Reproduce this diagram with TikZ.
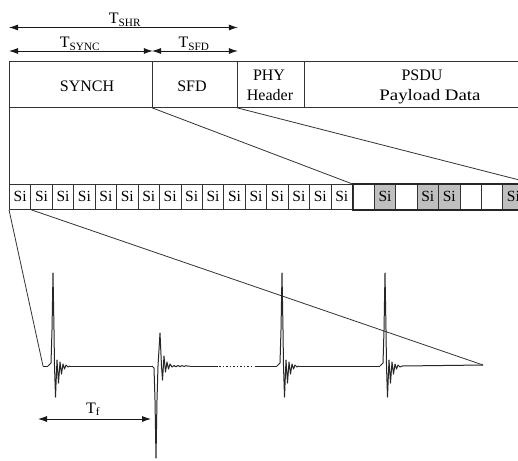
\documentclass[tikz,border=0pt]{standalone}
\usepackage{fontspec}
\setmainfont{Liberation Serif}
\usetikzlibrary{arrows.meta}
\begin{document}
\begin{tikzpicture}[x=1pt,y=-1pt,
  frm/.style={draw=black!80, line width=0.8pt},
  lbl/.style={font=\fontsize{16}{19}\selectfont, inner sep=0pt, anchor=base, text=black},
  dimarrow/.style={{Latex[length=9pt,width=6pt]}-{Latex[length=9pt,width=6pt]}, line width=0.8pt, draw=black!90},
  fcell/.style={frm, anchor=north west, minimum height=46pt, inner sep=0pt},
  sicell/.style={frm, anchor=north west, minimum width=21.44pt, minimum height=25pt, inner sep=0pt, font=\fontsize{15.5}{18}\selectfont, text=black},
  gcell/.style={sicell, fill=black!25},
  wave/.style={line width=1pt, draw=black!85, line join=round},
  pulseup/.pic={\draw[wave] (-5,0) -- (-2,-3) -- (-1,-36) -- (0,-93) -- (1,-36) -- (1.5,0) -- (2.5,31) -- (4,-6) -- (5.5,17) -- (7,-4) -- (8.5,8) -- (10,-2) -- (11.5,3) -- (13,-1) -- (15,1) -- (17,0);},
  pulsedn/.pic={\draw[wave] (-4,0) -- (-2,2) -- (-1,34) -- (0,92) -- (1,34) -- (2,0) -- (4,-33) -- (5.5,0) -- (6.5,14) -- (8,-10) -- (9.5,6) -- (11,-4) -- (12.5,3) -- (14,-2) -- (16,1) -- (18,-0.5) -- (20,0.8) -- (22,-0.5) -- (24,0.6) -- (26,-0.4) -- (28,0.4) -- (30,-0.3) -- (32,0.2) -- (34,0);}
]
\clip (0,0) rectangle (518,460);
\fill[white] (0,0) rectangle (518,460);

% frame
\node[fcell, minimum width=143pt] (synch) at (9,61) {};
\node[fcell, minimum width=85pt] (sfd) at (152,61) {};
\node[fcell, minimum width=67pt] (phy) at (237,61) {};
\node[fcell, minimum width=241pt] (psdu) at (304,61) {};
\node[lbl] (tsynch) at (87,91) {SYNCH};
\node[lbl] (tsfd) at (192,91) {SFD};
\node[lbl] (tphy) at (269,80) {PHY};
\node[lbl] (thead) at (270,100) {Header};
\node[lbl] (tpsdu) at (422,80) {PSDU};
\node[lbl] (tpay) at (430,100) {\scalebox{1.18}[1]{Payload Data}};

% dimension arrows
\draw[dimarrow] ([yshift=33.5pt]synch.north west) coordinate (shrA) -- ([yshift=33.5pt]sfd.north east) coordinate (shrB);
\draw[dimarrow] ([yshift=10pt]synch.north west) coordinate (syA) -- ([yshift=10pt]synch.north east) coordinate (syB);
\draw[dimarrow] ([yshift=10pt]sfd.north west) coordinate (sfA) -- ([yshift=10pt]sfd.north east) coordinate (sfB);
\node[lbl] (lshr) at (125,23.5) {T\textsubscript{SHR}};
\node[lbl] (lsync) at (80,48) {T\textsubscript{SYNC}};
\node[lbl] (lsfd) at (194,48) {T\textsubscript{SFD}};

% Si row
\foreach \i in {1,...,16} {
  \node[sicell] (s\i) at ({9+(\i-1)*21.44},184) {Si};
}
\foreach \i/\t/\s in {1//sicell,2/Si/gcell,3//sicell,4/Si/gcell,5/Si/gcell,6//sicell,7//sicell,8/Si/gcell,9//sicell} {
  \node[\s] (e\i) at ({352.5+(\i-1)*21.4},184) {\t};
}
\draw[line width=1.8pt, draw=black!85] (e9.north east) -- (e1.north west) -- (e1.south west) -- (e9.south east);

% expansion lines
\coordinate (far) at (535,184);
\draw[frm] (synch.south west) -- (s1.north west);
\draw[frm] (sfd.south west) -- (e1.north west);
\draw[frm] (phy.south west) -- (far);

% waveform
\coordinate (w0) at (43,366);
\coordinate (wend) at (483,365);
\draw[frm] (s1.south west) -- (w0);
\draw[frm] (s1.south east) -- (wend);
\draw[wave] (w0) -- (48,366);
\pic at (53,366) {pulseup};
\draw[wave] (70,366) -- (152,366);
\pic at (156,366) {pulsedn};
\draw[wave] (190,366) -- (218,366);
\draw[wave, dash pattern=on 1.5pt off 2pt] (219,366) -- (253,366);
\draw[wave] (255,366) -- (277,366);
\pic at (282,366) {pulseup};
\draw[wave] (299,366) -- (380,366);
\pic at (385,366) {pulseup};
\draw[wave] (402,366) -- (wend);

% Tf
\coordinate (tfA) at (38,419);
\coordinate (tfB) at (151,419);
\draw[dimarrow] (tfA) -- (tfB);
\node[lbl] (ltf) at (93,413) {T\textsubscript{f}};
\end{tikzpicture}
\end{document}
